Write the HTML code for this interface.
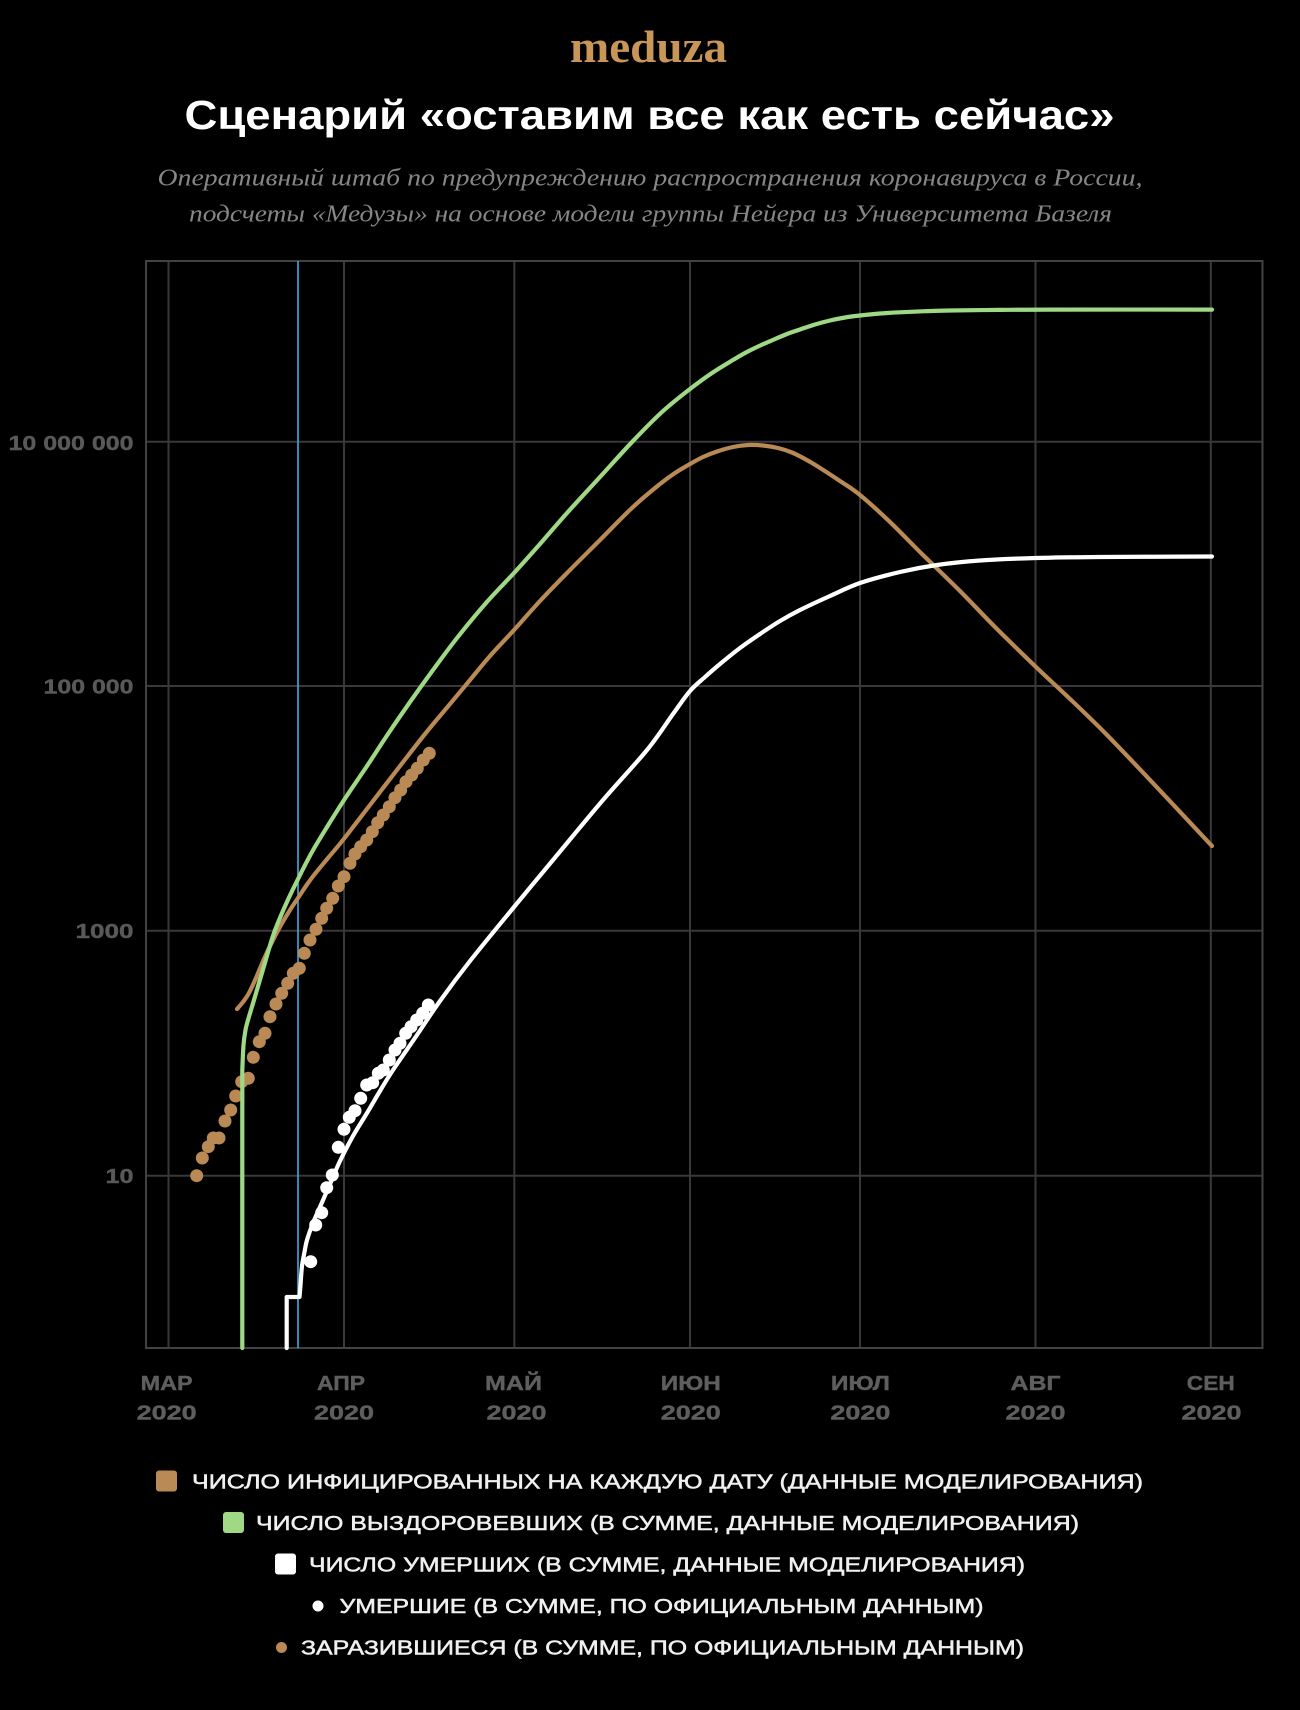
<!DOCTYPE html>
<html lang="ru">
<head>
<meta charset="utf-8">
<style>
  html,body{margin:0;padding:0;background:#000;}
  body{width:1300px;height:1710px;overflow:hidden;}
  svg{display:block;}
</style>
</head>
<body>
<svg width="1300" height="1710" viewBox="0 0 1300 1710" xmlns="http://www.w3.org/2000/svg">
  <rect x="0" y="0" width="1300" height="1710" fill="#000"/>

  <!-- Logo -->
  <text x="570" y="62" font-family="'Liberation Serif', serif" font-weight="bold" font-size="46" fill="#c9965a" textLength="157" lengthAdjust="spacingAndGlyphs">meduza</text>

  <!-- Title -->
  <text x="184.5" y="129" font-family="'Liberation Sans', 'Noto Sans CJK SC', sans-serif" font-weight="bold" font-size="41" fill="#ffffff" textLength="930" lengthAdjust="spacingAndGlyphs">Сценарий «оставим все как есть сейчас»</text>

  <!-- Subtitle -->
  <text x="157.5" y="185.5" font-family="'Liberation Serif', serif" font-style="italic" font-size="24" fill="#868686" textLength="985" lengthAdjust="spacingAndGlyphs">Оперативный штаб по предупреждению распространения коронавируса в России,</text>
  <text x="189" y="221.5" font-family="'Liberation Serif', serif" font-style="italic" font-size="24" fill="#868686" textLength="923" lengthAdjust="spacingAndGlyphs">подсчеты «Медузы» на основе модели группы Нейера из Университета Базеля</text>

  <!-- Grid -->
  <g stroke="#393939" stroke-width="2" fill="none">
    <line x1="168.5" y1="261" x2="168.5" y2="1348"/>
    <line x1="344" y1="261" x2="344" y2="1348"/>
    <line x1="514.3" y1="261" x2="514.3" y2="1348"/>
    <line x1="690" y1="261" x2="690" y2="1348"/>
    <line x1="860" y1="261" x2="860" y2="1348"/>
    <line x1="1035.5" y1="261" x2="1035.5" y2="1348"/>
    <line x1="1210.8" y1="261" x2="1210.8" y2="1348"/>
    <line x1="146" y1="441.7" x2="1262.5" y2="441.7"/>
    <line x1="146" y1="686" x2="1262.5" y2="686"/>
    <line x1="146" y1="930.7" x2="1262.5" y2="930.7"/>
    <line x1="146" y1="1175.7" x2="1262.5" y2="1175.7"/>
  </g>
  <rect x="146" y="261" width="1116.5" height="1087" fill="none" stroke="#424242" stroke-width="2"/>

  <!-- Y labels -->
  <g font-family="'Liberation Sans', sans-serif" font-weight="bold" font-size="20" fill="#595959" stroke="#595959" stroke-width="0.4" text-anchor="end">
    <text x="133.5" y="450" textLength="125" lengthAdjust="spacingAndGlyphs">10 000 000</text>
    <text x="133.5" y="693.5" textLength="90" lengthAdjust="spacingAndGlyphs">100 000</text>
    <text x="133.5" y="938" textLength="58" lengthAdjust="spacingAndGlyphs">1000</text>
    <text x="133.5" y="1183" textLength="28" lengthAdjust="spacingAndGlyphs">10</text>
  </g>

  <!-- X labels -->
  <g font-family="'Liberation Sans', sans-serif" font-weight="bold" font-size="20" fill="#5e5e5e" stroke="#5e5e5e" stroke-width="0.4" text-anchor="middle">
    <text x="166.6" y="1390" textLength="52" lengthAdjust="spacingAndGlyphs">МАР</text>
    <text x="166.6" y="1419.5" textLength="60" lengthAdjust="spacingAndGlyphs">2020</text>
    <text x="341" y="1390" textLength="48" lengthAdjust="spacingAndGlyphs">АПР</text>
    <text x="344" y="1419.5" textLength="60" lengthAdjust="spacingAndGlyphs">2020</text>
    <text x="513.5" y="1390" textLength="57" lengthAdjust="spacingAndGlyphs">МАЙ</text>
    <text x="516.5" y="1419.5" textLength="60" lengthAdjust="spacingAndGlyphs">2020</text>
    <text x="690.8" y="1390" textLength="60" lengthAdjust="spacingAndGlyphs">ИЮН</text>
    <text x="690.8" y="1419.5" textLength="60" lengthAdjust="spacingAndGlyphs">2020</text>
    <text x="860.4" y="1390" textLength="59" lengthAdjust="spacingAndGlyphs">ИЮЛ</text>
    <text x="860.4" y="1419.5" textLength="60" lengthAdjust="spacingAndGlyphs">2020</text>
    <text x="1035.5" y="1390" textLength="50" lengthAdjust="spacingAndGlyphs">АВГ</text>
    <text x="1035.5" y="1419.5" textLength="60" lengthAdjust="spacingAndGlyphs">2020</text>
    <text x="1210.8" y="1390" textLength="48" lengthAdjust="spacingAndGlyphs">СЕН</text>
    <text x="1211.5" y="1419.5" textLength="60" lengthAdjust="spacingAndGlyphs">2020</text>
  </g>

  <!-- Blue marker line -->
  <line x1="298" y1="261" x2="298" y2="1348" stroke="#3cade6" stroke-width="1.6"/>

  <!-- Brown dots (official infected) -->
  <g fill="#b98a55">
    <circle cx="196.7" cy="1175.7" r="6.5"/>
    <circle cx="202.3" cy="1158" r="6.5"/>
    <circle cx="208.3" cy="1146.7" r="6.5"/>
    <circle cx="213.3" cy="1138" r="6.5"/>
    <circle cx="219" cy="1138" r="6.5"/>
    <circle cx="225" cy="1121" r="6.5"/>
    <circle cx="230.7" cy="1110" r="6.5"/>
    <circle cx="235.7" cy="1096" r="6.5"/>
    <circle cx="241.7" cy="1081.7" r="6.5"/>
    <circle cx="248.3" cy="1078.3" r="6.5"/>
    <circle cx="253.3" cy="1057.3" r="6.5"/>
    <circle cx="259.3" cy="1041.7" r="6.5"/>
    <circle cx="265" cy="1033.3" r="6.5"/>
    <circle cx="270" cy="1016.7" r="6.5"/>
    <circle cx="276" cy="1004" r="6.5"/>
    <circle cx="281.7" cy="993.3" r="6.5"/>
    <circle cx="287.7" cy="983.3" r="6.5"/>
    <circle cx="293.3" cy="973.3" r="6.5"/>
    <circle cx="299.3" cy="968.3" r="6.5"/>
    <circle cx="304.3" cy="953.3" r="6.5"/>
    <circle cx="310" cy="940" r="6.5"/>
    <circle cx="316" cy="929.3" r="6.5"/>
    <circle cx="321.7" cy="918.3" r="6.5"/>
    <circle cx="326.7" cy="908.3" r="6.5"/>
    <circle cx="332.7" cy="898.3" r="6.5"/>
    <circle cx="338.3" cy="886" r="6.5"/>
    <circle cx="344" cy="876.7" r="6.5"/>
    <circle cx="350" cy="863.3" r="6.5"/>
    <circle cx="355" cy="854" r="6.5"/>
    <circle cx="360.7" cy="846.7" r="6.5"/>
    <circle cx="366.7" cy="840" r="6.5"/>
    <circle cx="372.3" cy="831.7" r="6.5"/>
    <circle cx="377.7" cy="822.7" r="6.5"/>
    <circle cx="383.3" cy="815" r="6.5"/>
    <circle cx="389.3" cy="806.7" r="6.5"/>
    <circle cx="395" cy="797.7" r="6.5"/>
    <circle cx="400.7" cy="790" r="6.5"/>
    <circle cx="406" cy="781.7" r="6.5"/>
    <circle cx="411.7" cy="775" r="6.5"/>
    <circle cx="417.3" cy="768.3" r="6.5"/>
    <circle cx="423.3" cy="760" r="6.5"/>
    <circle cx="429.3" cy="753.3" r="6.5"/>
  </g>

  <!-- White dots (official deaths) -->
  <g fill="#ffffff">
    <circle cx="310.7" cy="1261.7" r="6.5"/>
    <circle cx="315.7" cy="1225" r="6.5"/>
    <circle cx="321.7" cy="1212.7" r="6.5"/>
    <circle cx="326.7" cy="1187.7" r="6.5"/>
    <circle cx="332.3" cy="1175" r="6.5"/>
    <circle cx="338.3" cy="1147.3" r="6.5"/>
    <circle cx="344" cy="1129.3" r="6.5"/>
    <circle cx="349.3" cy="1117.3" r="6.5"/>
    <circle cx="355" cy="1110.7" r="6.5"/>
    <circle cx="360.7" cy="1098.3" r="6.5"/>
    <circle cx="366.7" cy="1085" r="6.5"/>
    <circle cx="372.7" cy="1082.7" r="6.5"/>
    <circle cx="378.3" cy="1073.3" r="6.5"/>
    <circle cx="383.3" cy="1070" r="6.5"/>
    <circle cx="389.3" cy="1060" r="6.5"/>
    <circle cx="395" cy="1050" r="6.5"/>
    <circle cx="400" cy="1043.3" r="6.5"/>
    <circle cx="405.7" cy="1033.3" r="6.5"/>
    <circle cx="411" cy="1026.7" r="6.5"/>
    <circle cx="416.7" cy="1020" r="6.5"/>
    <circle cx="422.7" cy="1013.3" r="6.5"/>
    <circle cx="428.3" cy="1005" r="6.5"/>
  </g>

  <!-- Brown model line (infected) -->
  <polyline id="lnBrown" fill="none" stroke="#b98a55" stroke-width="4.2" stroke-linecap="round" stroke-linejoin="round"
    points="237,1009 243,1002 249,993 256,978 264,959 273,940 281,925 290,910 298,898 306,886 314,875 328,858 343,840 370,805 400,766 425,734 450,704 470,680 490,656 514,630 540,601 567,573 600,540 633,507 660,484 675,473 690,464 703,457 717,451.5 733,447 748,445 763,445.5 778,448 792,452.5 805,459 817,466 840,481 860,495 890,522 922,554 960,591 996,628 1036,667 1107,735 1212,846"/>

  <!-- White model line (deaths) -->
  <polyline id="lnWhite" fill="none" stroke="#ffffff" stroke-width="4.2" stroke-linecap="round" stroke-linejoin="round"
    points="286.7,1348 286.7,1297 299.5,1297 300.5,1285 302,1266 304.5,1252 307,1240 313,1223 320,1207 330,1184 340,1161 353,1136 367,1113 380,1091 393,1070 417,1035 440,1001 470,961 514,907 553,860 603,800 647,750 673,714 690,691 705,677 720,664 740,648 760,634 780,621 800,610 830,596 860,583 900,572 937,565 980,560.5 1036,558 1100,557 1212,556.5"/>

  <!-- Green model line (recovered) -->
  <polyline id="lnGreen" fill="none" stroke="#a0d985" stroke-width="4.2" stroke-linecap="round" stroke-linejoin="round"
    points="242.3,1348 242.3,1070 243.5,1045 245.5,1030 248,1020 254,1000 264,966 274,933 286,904 299,877 312,852 327,827 346,797 367,766 388,734 410,702 433,670 457,638 486,603 514,573 540,544 567,513 600,477 633,441 662,412 690,389 712,373 733,360 745,353 758,346.5 774,339.5 787,334 800,329.5 815,324.5 830,320.5 845,317.5 860,315.5 880,313.5 900,312.3 925,311.2 950,310.5 1000,309.9 1050,309.6 1212,309.6"/>

  <!-- Legend -->
  <g font-family="'Liberation Sans', sans-serif" font-size="20" fill="#f0f0f0" stroke="#f0f0f0" stroke-width="0.5">
    <text x="192" y="1488.5" textLength="951" lengthAdjust="spacingAndGlyphs">ЧИСЛО ИНФИЦИРОВАННЫХ НА КАЖДУЮ ДАТУ (ДАННЫЕ МОДЕЛИРОВАНИЯ)</text>
    <text x="256" y="1530" textLength="823" lengthAdjust="spacingAndGlyphs">ЧИСЛО ВЫЗДОРОВЕВШИХ (В СУММЕ, ДАННЫЕ МОДЕЛИРОВАНИЯ)</text>
    <text x="309" y="1571.5" textLength="716" lengthAdjust="spacingAndGlyphs">ЧИСЛО УМЕРШИХ (В СУММЕ, ДАННЫЕ МОДЕЛИРОВАНИЯ)</text>
    <text x="339.5" y="1613" textLength="644" lengthAdjust="spacingAndGlyphs">УМЕРШИЕ (В СУММЕ, ПО ОФИЦИАЛЬНЫМ ДАННЫМ)</text>
    <text x="301" y="1654.5" textLength="723" lengthAdjust="spacingAndGlyphs">ЗАРАЗИВШИЕСЯ (В СУММЕ, ПО ОФИЦИАЛЬНЫМ ДАННЫМ)</text>
  </g>
  <rect x="156" y="1470.5" width="21" height="21" rx="3" fill="#b98a55"/>
  <rect x="223" y="1512" width="21" height="21" rx="3" fill="#a0d985"/>
  <rect x="275" y="1553.5" width="21" height="21" rx="3" fill="#ffffff"/>
  <circle cx="318" cy="1606" r="5.5" fill="#ffffff"/>
  <circle cx="281.5" cy="1647.5" r="5.5" fill="#b98a55"/>
</svg>
<script>
(function(){
  var NS="http://www.w3.org/2000/svg";
  function smooth(id, straight){
    var el=document.getElementById(id);
    if(!el) return;
    var raw=el.getAttribute("points").trim().split(/\s+/).map(function(s){var a=s.split(",");return [parseFloat(a[0]),parseFloat(a[1])];});
    var d="M"+raw[0][0]+","+raw[0][1];
    for(var i=1;i<straight;i++){ d+=" L"+raw[i][0]+","+raw[i][1]; }
    var pts=raw.slice(straight-1);
    var n=pts.length;
    for(var j=0;j<n-1;j++){
      var p0=pts[Math.max(j-1,0)],p1=pts[j],p2=pts[j+1],p3=pts[Math.min(j+2,n-1)];
      var c1x=p1[0]+(p2[0]-p0[0])/6, c1y=p1[1]+(p2[1]-p0[1])/6;
      var c2x=p2[0]-(p3[0]-p1[0])/6, c2y=p2[1]-(p3[1]-p1[1])/6;
      d+=" C"+c1x.toFixed(2)+","+c1y.toFixed(2)+" "+c2x.toFixed(2)+","+c2y.toFixed(2)+" "+p2[0]+","+p2[1];
    }
    var p=document.createElementNS(NS,"path");
    p.setAttribute("d",d);
    ["fill","stroke","stroke-width","stroke-linecap","stroke-linejoin"].forEach(function(a){p.setAttribute(a,el.getAttribute(a));});
    el.parentNode.replaceChild(p,el);
  }
  smooth("lnBrown",1);
  smooth("lnWhite",3);
  smooth("lnGreen",2);
})();
</script>
</body>
</html>
